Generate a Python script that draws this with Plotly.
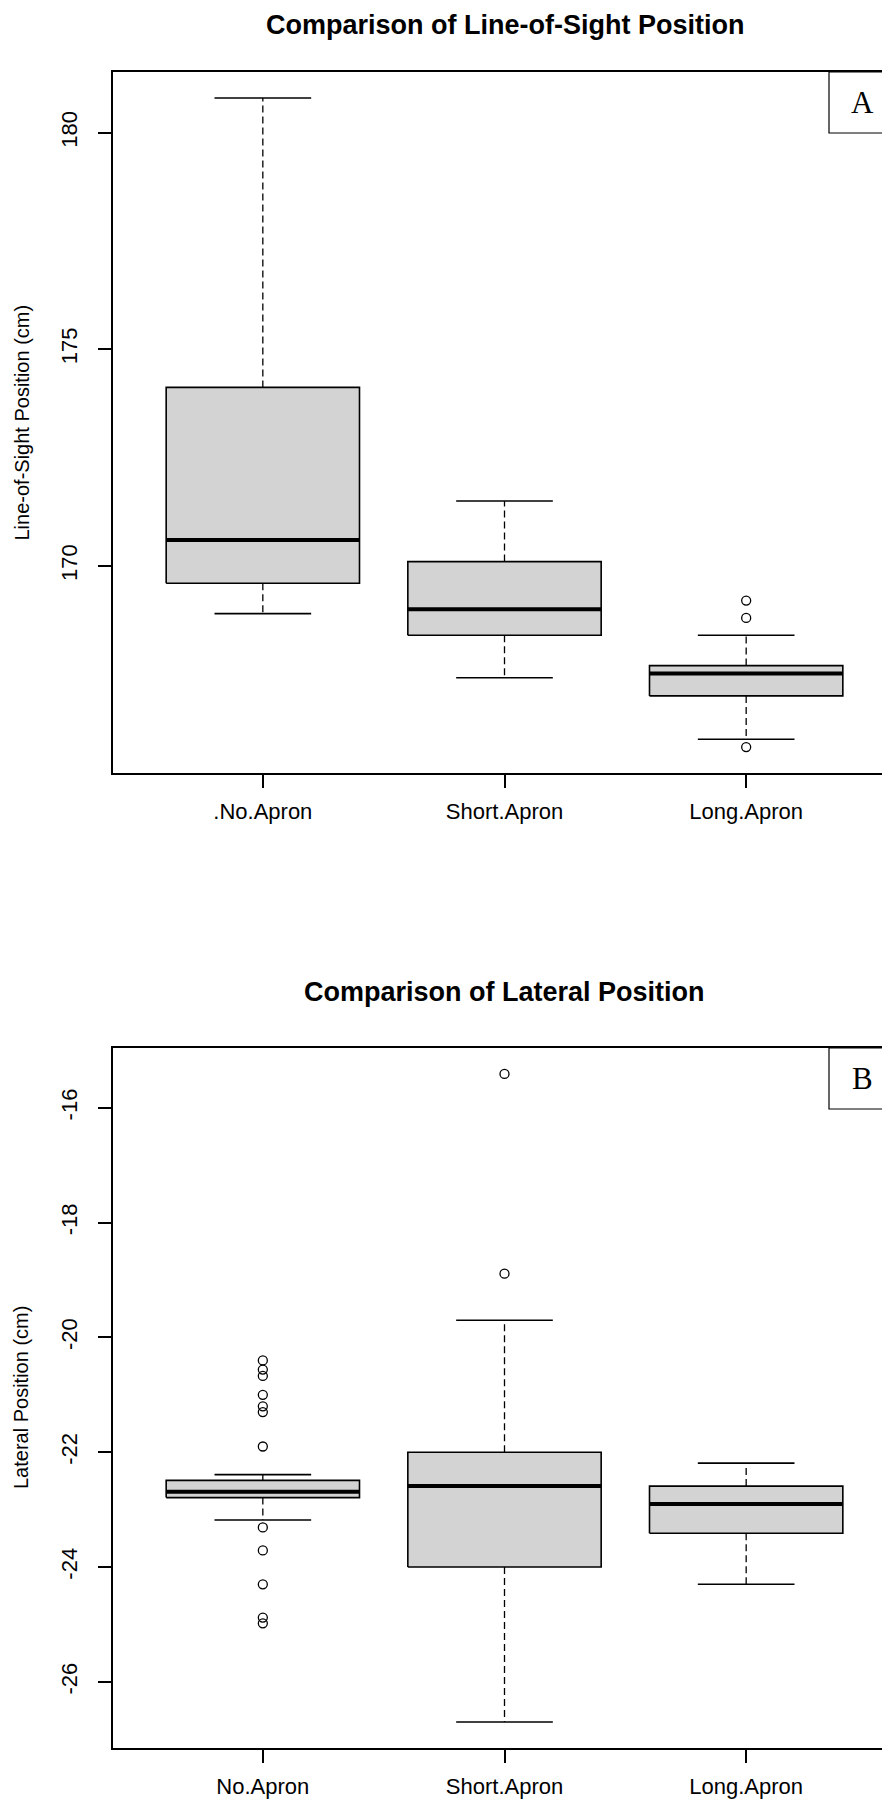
import plotly.graph_objects as go

W, H = 890, 1800

# ---------------- Data ----------------
positions = [1, 2, 3]

# Panel A: Line-of-Sight Position (cm)
categories_A = [".No.Apron", "Short.Apron", "Long.Apron"]
A_lower_whisker = [168.9, 167.42, 166.0]
A_q1 = [169.6, 168.4, 167.0]
A_median = [170.6, 169.0, 167.52]
A_q3 = [174.12, 170.1, 167.7]
A_upper_whisker = [180.8, 171.5, 168.4]
A_outlier_group = [3, 3, 3]
A_outlier_value = [169.2, 168.8, 165.82]
A_tick_values = [170, 175, 180]
A_tick_labels = ["170", "175", "180"]

# Panel B: Lateral Position (cm)
categories_B = ["No.Apron", "Short.Apron", "Long.Apron"]
B_lower_whisker = [-23.18, -26.7, -24.3]
B_q1 = [-22.79, -24.0, -23.41]
B_median = [-22.69, -22.59, -22.9]
B_q3 = [-22.49, -22.0, -22.59]
B_upper_whisker = [-22.39, -19.7, -22.19]
B_outlier_group = [1, 1, 1, 1, 1, 1, 1, 1, 1, 1, 1, 1, 2, 2]
B_outlier_value = [-20.4, -20.56, -20.67, -21.0, -21.2, -21.3, -21.9,
                   -23.31, -23.71, -24.3, -24.88, -24.98, -15.41, -18.89]
B_tick_values = [-26, -24, -22, -20, -18, -16]
B_tick_labels = ["-26", "-24", "-22", "-20", "-18", "-16"]

titles = ["Comparison of Line-of-Sight Position", "Comparison of Lateral Position"]
ytitles = ["Line-of-Sight Position (cm)", "Lateral Position (cm)"]
panel_letters = ["A", "B"]

# ---------------- Layout geometry (pixels) ----------------
FRAME_L, FRAME_R = 105, 888
PANELS_PX = [(64, 765), (1040, 1740)]  # (top, bottom) of each frame
TITLE_Y = [17, 984]
BOX_HALF = 0.4
CAP_HALF = 0.2


def px_x(p):
    return p / W


def px_y(p):
    return 1 - p / H


fig = go.Figure()


def add_panel(idx, low, q1, med, q3, up, og, ov):
    xa = "x" if idx == 0 else "x2"
    ya = "y" if idx == 0 else "y2"
    for i, c in enumerate(positions):
        # box
        fig.add_trace(go.Scatter(
            x=[c - BOX_HALF, c + BOX_HALF, c + BOX_HALF, c - BOX_HALF, c - BOX_HALF],
            y=[q1[i], q1[i], q3[i], q3[i], q1[i]],
            mode="lines", fill="toself", fillcolor="#D3D3D3",
            line=dict(color="black", width=1.6),
            xaxis=xa, yaxis=ya, showlegend=False, hoverinfo="skip"))
        # whiskers (dashed)
        fig.add_trace(go.Scatter(
            x=[c, c, None, c, c],
            y=[q3[i], up[i], None, q1[i], low[i]],
            mode="lines", line=dict(color="black", width=1.3, dash="7px,4px"),
            xaxis=xa, yaxis=ya, showlegend=False, hoverinfo="skip"))
        # caps
        fig.add_trace(go.Scatter(
            x=[c - CAP_HALF, c + CAP_HALF, None, c - CAP_HALF, c + CAP_HALF],
            y=[up[i], up[i], None, low[i], low[i]],
            mode="lines", line=dict(color="black", width=1.6),
            xaxis=xa, yaxis=ya, showlegend=False, hoverinfo="skip"))
        # median
        fig.add_trace(go.Scatter(
            x=[c - BOX_HALF, c + BOX_HALF], y=[med[i], med[i]],
            mode="lines", line=dict(color="black", width=4),
            xaxis=xa, yaxis=ya, showlegend=False, hoverinfo="skip"))
    # outliers
    fig.add_trace(go.Scatter(
        x=og, y=ov, mode="markers",
        marker=dict(symbol="circle-open", size=9, color="black", line=dict(width=1.3)),
        xaxis=xa, yaxis=ya, showlegend=False, hoverinfo="skip"))


add_panel(0, A_lower_whisker, A_q1, A_median, A_q3, A_upper_whisker, A_outlier_group, A_outlier_value)
add_panel(1, B_lower_whisker, B_q1, B_median, B_q3, B_upper_whisker, B_outlier_group, B_outlier_value)


def r_range(*lists):
    vals = [v for l in lists for v in l]
    lo, hi = min(vals), max(vals)
    pad = 0.04 * (hi - lo)
    return [lo - pad, hi + pad]


rangeA = r_range(A_lower_whisker, A_upper_whisker, A_outlier_value)
rangeB = r_range(B_lower_whisker, B_upper_whisker, B_outlier_value)
xrange_ = [0.5 - 0.12, 3.5 + 0.12]

tickfont = dict(family="Liberation Sans, Arial, sans-serif", size=22, color="black")

common_x = dict(
    range=xrange_, tickvals=positions, showgrid=False, zeroline=False,
    showline=True, mirror=True, linecolor="black", linewidth=1.5,
    ticks="outside", ticklen=13, tickwidth=1.5, tickcolor="black",
    tickfont=tickfont, ticklabelstandoff=5,
    domain=[px_x(FRAME_L), px_x(FRAME_R)], fixedrange=True)
common_y = dict(
    showgrid=False, zeroline=False,
    showline=True, mirror=True, linecolor="black", linewidth=1.5,
    ticks="outside", ticklen=13, tickwidth=1.5, tickcolor="black",
    tickfont=tickfont, tickangle=-90, ticklabelstandoff=12, fixedrange=True)

fig.update_layout(
    width=W, height=H, autosize=False,
    margin=dict(l=0, r=0, t=0, b=0),
    paper_bgcolor="white", plot_bgcolor="white",
    xaxis=dict(common_x, anchor="y", ticktext=categories_A),
    yaxis=dict(common_y, anchor="x", range=rangeA,
               tickvals=A_tick_values, ticktext=A_tick_labels,
               domain=[px_y(PANELS_PX[0][1]), px_y(PANELS_PX[0][0])]),
    xaxis2=dict(common_x, anchor="y2", ticktext=categories_B),
    yaxis2=dict(common_y, anchor="x2", range=rangeB,
                tickvals=B_tick_values, ticktext=B_tick_labels,
                domain=[px_y(PANELS_PX[1][1]), px_y(PANELS_PX[1][0])]),
)

annotations = []
shapes = []
cx = (FRAME_L + FRAME_R) / 2
for k, (top, bot) in enumerate(PANELS_PX):
    annotations.append(dict(
        text="<b>" + titles[k] + "</b>", x=px_x(cx), y=px_y(TITLE_Y[k]),
        xref="paper", yref="paper", xanchor="center", yanchor="middle", showarrow=False,
        font=dict(family="Liberation Sans, Arial, sans-serif", size=27, color="black")))
    annotations.append(dict(
        text=ytitles[k], x=px_x(13), y=px_y((top + bot) / 2), textangle=-90,
        xref="paper", yref="paper", xanchor="center", yanchor="middle", showarrow=False,
        font=dict(family="Liberation Sans, Arial, sans-serif", size=20, color="black")))
    bx0, bx1, by0, by1 = 821, FRAME_R, top, top + 61
    shapes.append(dict(type="rect", xref="paper", yref="paper",
                       x0=px_x(bx0), x1=px_x(bx1), y0=px_y(by1), y1=px_y(by0),
                       line=dict(color="black", width=1.2), fillcolor="white", layer="above"))
    annotations.append(dict(
        text=panel_letters[k], x=px_x((bx0 + bx1) / 2), y=px_y((by0 + by1) / 2),
        xref="paper", yref="paper", xanchor="center", yanchor="middle", showarrow=False,
        font=dict(family="Liberation Serif, Times New Roman, serif", size=31, color="black")))

fig.update_layout(annotations=annotations, shapes=shapes)

fig.write_html("out.html")
